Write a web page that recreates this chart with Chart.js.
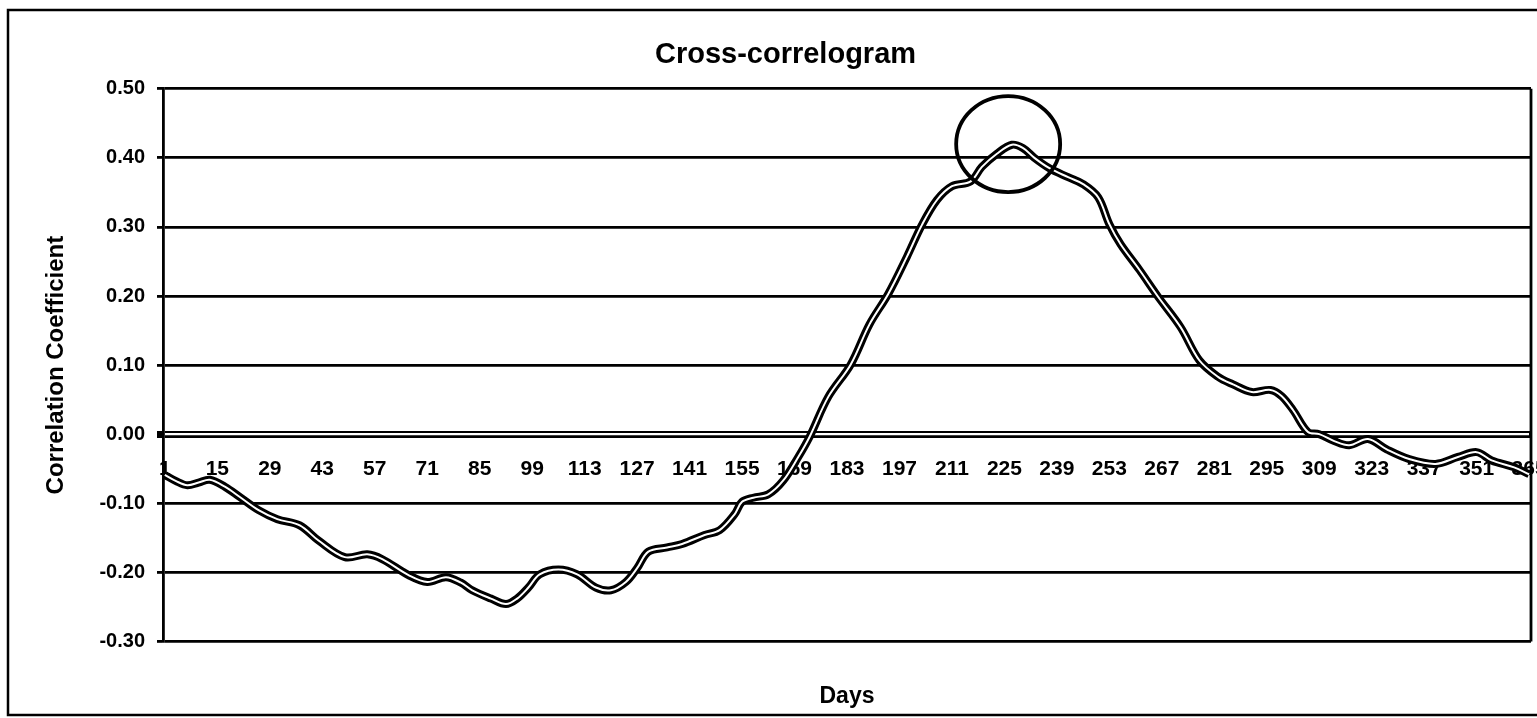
<!DOCTYPE html>
<html>
<head>
<meta charset="utf-8">
<script src="https://cdn.jsdelivr.net/npm/chart.js@4.4.0/dist/chart.umd.min.js"></script>
<style>
  body { margin: 0; background: #fff; }
  canvas { display: block; }
</style>
</head>
<body>
<canvas id="chart" width="1537" height="718"></canvas>
<script>
const DAYS = [1, 4, 7, 10, 13, 17, 21, 26, 31, 37, 42, 49, 55, 59, 66, 71, 76, 80, 83, 88,
  92, 95, 98, 101, 106, 111, 116, 120, 124, 127, 130, 135, 139, 145, 149, 153, 155, 158, 162, 166,
  170, 173, 178, 184, 189, 194, 199, 203, 207, 211, 216, 219, 223, 227, 230, 233, 237, 242, 246, 250,
  253, 256, 261, 266, 272, 277, 282, 286, 291, 296, 299, 302, 306, 309, 313, 317, 322, 327, 333, 340,
  346, 351, 355, 361, 365];
const COEFF = [-0.059, -0.068, -0.074, -0.070, -0.066, -0.076, -0.091, -0.110, -0.123, -0.132,
  -0.154, -0.178, -0.174, -0.181, -0.204, -0.214, -0.207, -0.215, -0.226, -0.238,
  -0.246, -0.238, -0.222, -0.203, -0.196, -0.203, -0.222, -0.226, -0.214, -0.194,
  -0.170, -0.164, -0.159, -0.146, -0.139, -0.116, -0.098, -0.092, -0.087, -0.067,
  -0.033, -0.004, 0.054, 0.101, 0.159, 0.203, 0.257, 0.303, 0.339, 0.359,
  0.366, 0.387, 0.406, 0.419, 0.414, 0.400, 0.385, 0.372, 0.362, 0.343,
  0.304, 0.275, 0.238, 0.199, 0.155, 0.107, 0.083, 0.072, 0.061, 0.064,
  0.055, 0.035, 0.003, 0.000, -0.010, -0.016, -0.007, -0.022, -0.036, -0.043,
  -0.033, -0.026, -0.038, -0.048, -0.058];
const DAY_TICKS = [1, 15, 29, 43, 57, 71, 85, 99, 113, 127, 141, 155, 169, 183, 197,
  211, 225, 239, 253, 267, 281, 295, 309, 323, 337, 351, 365];
const Y_TICKS = [-0.30, -0.20, -0.10, 0.00, 0.10, 0.20, 0.30, 0.40, 0.50];
// hand-drawn circle round the peak
const PEAK_DAY = 226;
const PEAK_VALUE = 0.42;

const points = DAYS.map((d, i) => ({ x: d, y: COEFF[i] }));
const FONT = "'Liberation Sans', Arial, sans-serif";

const extras = {
  id: "extras",
  beforeDraw(chart) {
    const ctx = chart.ctx;
    ctx.save();
    ctx.fillStyle = "#fff";
    ctx.fillRect(0, 0, chart.width, chart.height);
    ctx.strokeStyle = "#000";
    ctx.lineWidth = 2.5;
    ctx.strokeRect(8, 10, chart.width + 10, 705);
    ctx.restore();
  },
  beforeDatasetsDraw(chart) {
    const { ctx, chartArea, scales } = chart;
    const y0 = scales.y.getPixelForValue(0);
    ctx.save();
    ctx.strokeStyle = "#fff";
    ctx.lineWidth = 2.2;
    ctx.beginPath();
    ctx.moveTo(chartArea.left + 2, y0);
    ctx.lineTo(chartArea.right - 2, y0);
    ctx.stroke();
    ctx.strokeStyle = "#000";
    ctx.lineWidth = 2.8;
    ctx.beginPath();
    ctx.moveTo(chartArea.right, chartArea.top);
    ctx.lineTo(chartArea.right, chartArea.bottom);
    ctx.stroke();
    ctx.restore();
  },
  afterDatasetsDraw(chart) {
    const { ctx, scales } = chart;
    const cx = scales.x.getPixelForValue(PEAK_DAY);
    const cy = scales.y.getPixelForValue(PEAK_VALUE);
    ctx.save();
    ctx.strokeStyle = "#000";
    ctx.lineWidth = 3.8;
    ctx.beginPath();
    ctx.ellipse(cx, cy, 52, 48, 0, 0, Math.PI * 2);
    ctx.stroke();
    ctx.restore();
  }
};

new Chart(document.getElementById("chart"), {
  type: "line",
  data: {
    datasets: [
      {
        data: points,
        borderColor: "#fff",
        borderWidth: 2,
        pointRadius: 0,
        tension: 0.35,
        order: 0
      },
      {
        data: points,
        borderColor: "#000",
        borderWidth: 8,
        pointRadius: 0,
        tension: 0.35,
        order: 1
      }
    ]
  },
  options: {
    responsive: false,
    animation: false,
    layout: { padding: { left: 40, right: 6, top: 10, bottom: 0 } },
    plugins: {
      legend: { display: false },
      tooltip: { enabled: false },
      title: {
        display: true,
        text: "Cross-correlogram",
        color: "#000",
        font: { family: FONT, size: 29, weight: "bold" },
        padding: { top: 28, bottom: 16 }
      },
      subtitle: {
        display: true,
        fullSize: false,
        position: "bottom",
        text: "Days",
        color: "#000",
        font: { family: FONT, size: 23, weight: "bold" },
        padding: { top: 41, bottom: 8 }
      }
    },
    scales: {
      x: {
        type: "linear",
        position: { y: 0 },
        min: 0.5,
        max: 365.5,
        afterBuildTicks(scale) {
          scale.ticks = DAY_TICKS.map(v => ({ value: v }));
        },
        afterFit(scale) {
          scale.paddingLeft = 0;
          scale.paddingRight = 0;
        },
        grid: { display: false, drawTicks: false },
        border: { display: false },
        ticks: {
          autoSkip: false,
          maxRotation: 0,
          padding: 22,
          color: "#000",
          font: { family: FONT, size: 21, weight: "bold" }
        }
      },
      y: {
        min: -0.3,
        max: 0.5,
        afterBuildTicks(scale) {
          scale.ticks = Y_TICKS.map(v => ({ value: v }));
        },
        afterFit(scale) { scale.width = 123; },
        grid: {
          color: "#000",
          lineWidth: c => (Math.abs(c.tick.value) < 1e-9 ? 7 : 2.8),
          tickLength: 6
        },
        border: { display: true, color: "#000", width: 2.8 },
        ticks: {
          padding: 12,
          color: "#000",
          font: { family: FONT, size: 20, weight: "bold" },
          callback: v => v.toFixed(2)
        },
        title: {
          display: true,
          text: "Correlation Coefficient",
          color: "#000",
          font: { family: FONT, size: 24, weight: "bold" },
          padding: { top: 2, bottom: 4 }
        }
      }
    }
  },
  plugins: [extras]
});
</script>
</body>
</html>
